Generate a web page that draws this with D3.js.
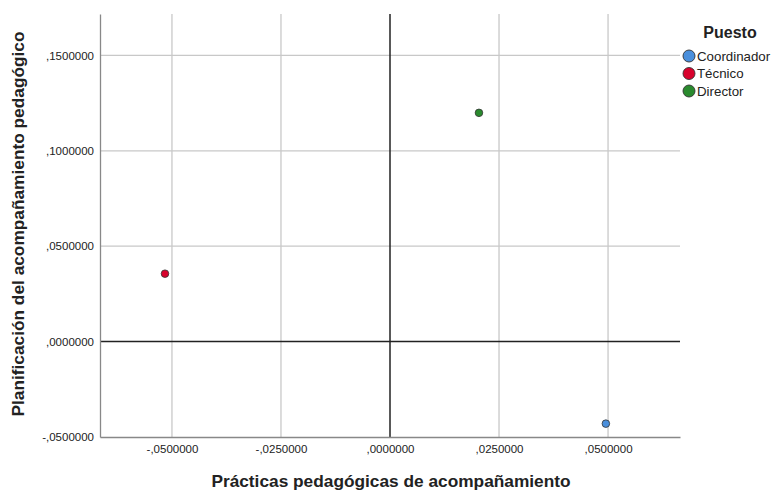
<!DOCTYPE html>
<html><head><meta charset="utf-8">
<script src="https://cdn.jsdelivr.net/npm/d3@7"></script>
<style>body{margin:0;background:#fff;}svg{display:block;font-family:"Liberation Sans",Arial,sans-serif;}</style>
</head><body>
<svg id="c" width="775" height="491"></svg>
<script>
const categories = ["Coordinador", "Técnico", "Director"];
const xValues = [0.0495, -0.0516, 0.0204];
const yValues = [-0.0430, 0.0356, 0.1199];
const colors = ["#4a8fdc", "#d8022c", "#2a8a2e"];
const xTicks = [-0.05, -0.025, 0, 0.025, 0.05];
const yTicks = [-0.05, 0, 0.05, 0.1, 0.15];
const xTitle = "Prácticas pedagógicas de acompañamiento";
const yTitle = "Planificación del acompañamiento pedagógico";
const legendTitle = "Puesto";

const svg = d3.select("#c");
const L = 100, R = 680, T = 14, B = 437;
const x = d3.scaleLinear().domain([-0.0665, 0.0665]).range([L, R]);
const y = d3.scaleLinear().domain([-0.05, 0.1717]).range([B, T]);

const fmt = v => {
  const s = Math.abs(v).toFixed(7).replace(/^0\./, ",");
  return (v < 0 ? "-" : "") + s;
};

// gridlines
svg.append("g").selectAll("line").data(xTicks.filter(d => d !== 0)).join("line")
  .attr("x1", d => x(d)).attr("x2", d => x(d)).attr("y1", T).attr("y2", B)
  .attr("stroke", "#c8c8c8").attr("stroke-width", 1.3);
svg.append("g").selectAll("line").data(yTicks.filter(d => d !== 0 && d !== -0.05)).join("line")
  .attr("x1", L).attr("x2", R).attr("y1", d => y(d)).attr("y2", d => y(d))
  .attr("stroke", "#c8c8c8").attr("stroke-width", 1.3);

// zero lines
svg.append("line").attr("x1", x(0)).attr("x2", x(0)).attr("y1", T).attr("y2", B)
  .attr("stroke", "#222").attr("stroke-width", 1.5);
svg.append("line").attr("x1", L).attr("x2", R).attr("y1", y(0)).attr("y2", y(0))
  .attr("stroke", "#222").attr("stroke-width", 1.5);

// axes
const xAxis = d3.axisBottom(x).tickValues(xTicks).tickFormat(fmt).tickSize(0).tickPadding(8);
const gx = svg.append("g").attr("transform", `translate(0,${B})`).call(xAxis);
gx.select(".domain").attr("stroke", "#888").attr("stroke-width", 1.3);
gx.selectAll("text").attr("font-size", 11.5).attr("fill", "#222").attr("font-family", "Liberation Sans, Arial, sans-serif");

const yAxis = d3.axisLeft(y).tickValues(yTicks).tickFormat(fmt).tickSize(0).tickPadding(6);
const gy = svg.append("g").attr("transform", `translate(${L},0)`).call(yAxis);
gy.select(".domain").attr("stroke", "#888").attr("stroke-width", 1.3);
gy.selectAll("text").attr("font-size", 11.5).attr("fill", "#222").attr("font-family", "Liberation Sans, Arial, sans-serif");

// points
const data = categories.map((c, i) => ({c, x: xValues[i], y: yValues[i], col: colors[i]}));
svg.append("g").selectAll("circle").data(data).join("circle")
  .attr("cx", d => x(d.x)).attr("cy", d => y(d.y)).attr("r", 3.8)
  .attr("fill", d => d.col).attr("stroke", "#333").attr("stroke-width", 0.8);

// titles
svg.append("text").attr("x", 391).attr("y", 487).attr("text-anchor", "middle")
  .attr("font-size", 17.3).attr("font-weight", "bold").attr("fill", "#222").text(xTitle);
svg.append("text").attr("transform", `translate(24,224) rotate(-90)`)
  .attr("text-anchor", "middle").attr("font-size", 17.3).attr("font-weight", "bold").attr("fill", "#222").text(yTitle);

// legend
svg.append("text").attr("x", 730).attr("y", 38).attr("text-anchor", "middle")
  .attr("font-size", 16).attr("font-weight", "bold").attr("fill", "#222").text(legendTitle);
const lg = svg.append("g").selectAll("g").data(data).join("g")
  .attr("transform", (d, i) => `translate(689,${56 + i * 17.5})`);
lg.append("circle").attr("r", 6).attr("fill", d => d.col).attr("stroke", "#333").attr("stroke-width", 0.9);
lg.append("text").attr("x", 8).attr("y", 4.8).attr("font-size", 13.3).attr("fill", "#222").text(d => d.c);
</script>
</body></html>
